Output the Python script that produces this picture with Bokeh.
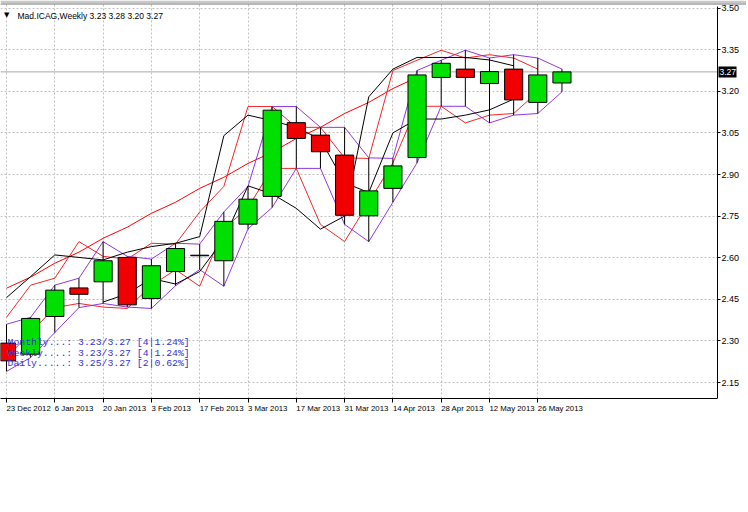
from bokeh.plotting import figure
from bokeh.models import (Range1d, FixedTicker, NumeralTickFormatter, Span, Label,
                          ColumnDataSource, LinearAxis, BoxAnnotation)
from bokeh.embed import file_html
from bokeh.resources import INLINE

# ---------------- data ----------------
bars = list(range(24))
opens = [2.292, 2.252, 2.388, 2.491, 2.513, 2.601, 2.453, 2.550, 2.607, 2.589, 2.721, 2.821,
         3.087, 3.042, 2.970, 2.751, 2.850, 2.961, 3.250, 3.280, 3.228, 3.280, 3.160, 3.230]
highs = [2.360, 2.385, 2.501, 2.526, 2.658, 2.605, 2.595, 2.652, 2.649, 2.765, 2.857, 3.145,
         3.145, 3.070, 3.070, 2.960, 2.958, 3.275, 3.312, 3.348, 3.320, 3.332, 3.320, 3.280]
lows = [2.190, 2.240, 2.330, 2.420, 2.435, 2.422, 2.417, 2.499, 2.557, 2.497, 2.704, 2.781,
        2.922, 2.922, 2.720, 2.658, 2.800, 2.942, 3.146, 3.146, 3.086, 3.114, 3.120, 3.198]
closes = [2.228, 2.381, 2.483, 2.468, 2.589, 2.430, 2.571, 2.633, 2.609, 2.731, 2.811, 3.132,
          3.030, 2.982, 2.753, 2.841, 2.931, 3.259, 3.301, 3.250, 3.271, 3.169, 3.259, 3.270]

# long red average line
red_ma = [2.49, 2.53, 2.58, 2.62, 2.67, 2.71, 2.76, 2.80, 2.85, 2.89, 2.94, 2.98,
          3.03, 3.07, 3.12, 3.16, 3.21, 3.25]
# black lines
black_a = [2.456, 2.532, 2.610, 2.601, 2.592, 2.620, 2.640, 2.652, 2.676, 3.040, 3.114,
           3.094, 3.070, 3.027, 2.870, 2.835, 3.050, 3.100, 3.100, 3.114, 3.133, 3.172]
black_b_x = list(range(4, 22))
black_b = [2.440, 2.470, 2.525, 2.505, 2.550, 2.667, 2.859, 2.830, 2.778, 2.703, 2.750,
           3.180, 3.280, 3.322, 3.322, 3.322, 3.313, 3.292]

date_ticks = [0, 2, 4, 6, 8, 10, 12, 14, 16, 18, 20, 22]
date_labels = ["23 Dec 2012", "6 Jan 2013", "20 Jan 2013", "3 Feb 2013", "17 Feb 2013",
               "3 Mar 2013", "17 Mar 2013", "31 Mar 2013", "14 Apr 2013", "28 Apr 2013",
               "12 May 2013", "26 May 2013"]
price_ticks = [2.15, 2.30, 2.45, 2.60, 2.75, 2.90, 3.05, 3.20, 3.35, 3.50]
last_price = 3.27
info_lines = ["Monthly...: 3.23/3.27 [4|1.24%]",
              "Weekly....: 3.23/3.27 [4|1.24%]",
              "Daily.....: 3.25/3.27 [2|0.62%]"]
symbol = "Mad.ICAG,Weekly"

# ---------------- pixel <-> data helpers (layout only) ----------------
PX_PER_BAR = 24.15
X0 = 6.0          # pixel of bar 0
Y215 = 382.0      # pixel of 2.15
PX_PER_PRICE = 41.6 / 0.15
SCALE_X = 717     # pixel of the price scale line

def dx(px):
    return (px - X0) / PX_PER_BAR

def dy(py):
    return 2.15 + (Y215 - py) / PX_PER_PRICE

W, H = 746, 505
p = figure(width=W, height=H, output_backend="svg", toolbar_location=None,
           x_range=Range1d(dx(0), dx(W)), y_range=Range1d(dy(398), dy(0)),
           y_axis_location="right", min_border_left=0, min_border_top=0,
           min_border_right=0, min_border_bottom=H - 398)
p.outline_line_color = None
p.background_fill_color = "white"
p.border_fill_color = "white"

FONT = "Liberation Sans"

xa = p.xaxis[0]
ya = p.yaxis[0]
for ax in (xa, ya):
    ax.axis_line_color = "black"
    ax.major_tick_line_color = "black"
    ax.minor_tick_line_color = None
    ax.major_tick_in = 0
    ax.major_label_text_font = FONT
    ax.major_label_text_color = "black"

xa.ticker = FixedTicker(ticks=date_ticks)
xa.major_label_overrides = {t: l for t, l in zip(date_ticks, date_labels)}
xa.major_label_orientation = -0.0001
xa.major_label_text_font_size = "7.8px"
xa.major_tick_out = 4
xa.major_label_standoff = 6
xa.bounds = (dx(0), dx(SCALE_X))

ya.ticker = FixedTicker(ticks=price_ticks)
ya.formatter = NumeralTickFormatter(format="0.00")
ya.major_label_text_font_size = "9px"
ya.major_tick_out = 3
ya.major_label_standoff = 1
ya.fixed_location = dx(SCALE_X)
ya.bounds = (dy(398), dy(6))

for g in (p.xgrid[0], p.ygrid[0]):
    g.grid_line_color = "#c0c0c0"
    g.grid_line_dash = "2 2"
    g.grid_line_width = 1

# window border at the very top
p.add_layout(BoxAnnotation(top=dy(0), bottom=dy(2.5), fill_color="#c8c8c8", fill_alpha=1,
                           line_color=None))
p.add_layout(Span(location=dy(3.5), dimension="width", line_color="#707070", line_width=1))

# current price line
p.add_layout(Span(location=last_price, dimension="width", line_color="#a8a8a8",
                  line_width=1, level="underlay"))

# indicator lines
p.line(bars[:len(red_ma)], red_ma, line_color="#ff0000", line_width=1)
p.line(bars, highs, line_color="#9038e0", line_width=1)
p.line(bars, lows, line_color="#9038e0", line_width=1)
p.line(bars[:-1], highs[1:], line_color="#f02828", line_width=1)
p.line(bars[:-1], lows[1:], line_color="#f02828", line_width=1)
p.line(bars[:len(black_a)], black_a, line_color="black", line_width=1)
p.line(black_b_x, black_b, line_color="black", line_width=1)

# candles
colors = ["#00e000" if c >= o else "#f00000" for o, c in zip(opens, closes)]
src = ColumnDataSource(dict(x=bars, o=opens, h=highs, l=lows, c=closes,
                            top=[max(o, c) for o, c in zip(opens, closes)],
                            bottom=[min(o, c) for o, c in zip(opens, closes)],
                            color=colors))
p.segment(x0="x", y0="l", x1="x", y1="h", source=src, line_color="black", line_width=1)
p.vbar(x="x", width=0.75, top="top", bottom="bottom", source=src,
       fill_color="color", line_color="black", line_width=1)

# blank price-scale strip to the right of the chart area
p.add_layout(BoxAnnotation(left=dx(SCALE_X + 0.5), right=dx(W), top=dy(5), bottom=dy(398),
                           fill_color="white", fill_alpha=1, line_color=None, level="glyph"))
# black background of the last-price tag
TAG_H = 11 / PX_PER_PRICE
p.add_layout(BoxAnnotation(left=dx(SCALE_X + 1), right=dx(SCALE_X + 19),
                           top=last_price + TAG_H / 2, bottom=last_price - TAG_H / 2,
                           fill_color="black", fill_alpha=1, line_color=None, level="glyph"))

# header text
p.add_layout(Label(x=dx(3.5), y=dy(14.5), text="\u25bc", text_font="DejaVu Sans",
                   text_font_size="7px", text_baseline="middle", text_color="black"))
hdr = "%s  %.2f %.2f %.2f %.2f" % (symbol, opens[-1], highs[-1], lows[-1], closes[-1])
p.add_layout(Label(x=dx(17), y=dy(15), text=hdr, text_font=FONT,
                   text_font_size="8.5px", text_baseline="middle", text_color="black"))

# info text block
for k, line in enumerate(info_lines):
    p.add_layout(Label(x=dx(7), y=dy(342 + 10.5 * k), text=line,
                       text_font="Liberation Mono", text_font_size="9.8px",
                       text_baseline="middle", text_color="#3333d6"))

# last price tag on the price scale
tag_axis = LinearAxis(fixed_location=dx(SCALE_X), ticker=FixedTicker(ticks=[last_price]),
                      formatter=NumeralTickFormatter(format="0.00"),
                      axis_line_color=None, major_tick_line_color=None,
                      minor_tick_line_color=None, major_tick_in=0, major_tick_out=0,
                      minor_tick_in=0, minor_tick_out=0, major_label_standoff=2,
                      major_label_text_font=FONT, major_label_text_font_size="8.5px",
                      major_label_text_color="white")
p.add_layout(tag_axis, "right")

open("out.html", "w").write(file_html(p, INLINE))
